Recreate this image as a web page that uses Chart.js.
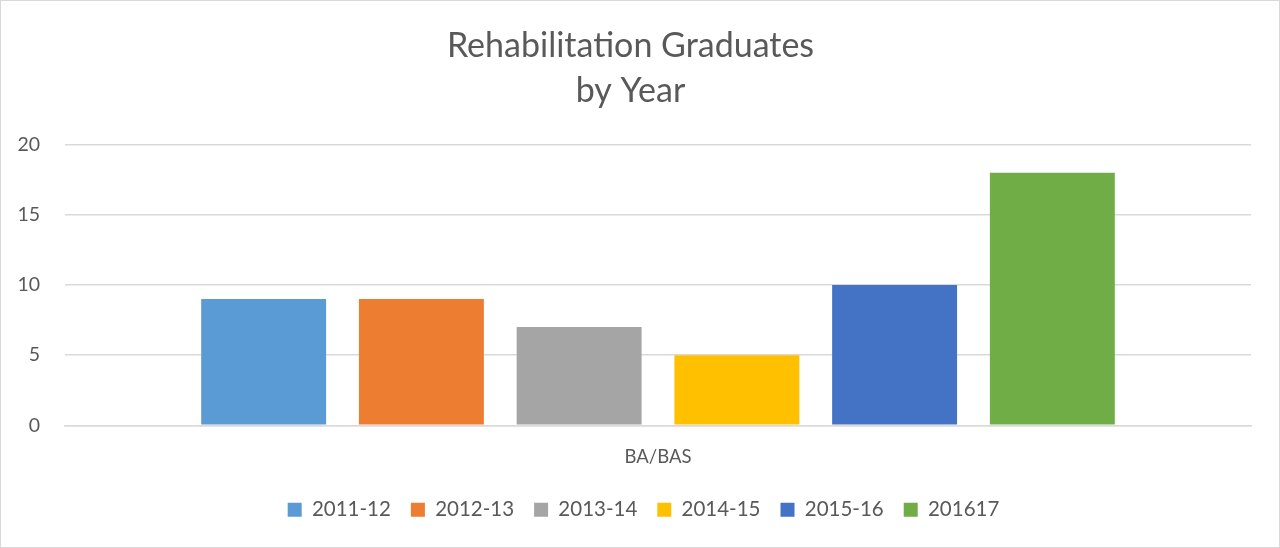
<!DOCTYPE html>
<html>
<head>
<meta charset="utf-8">
<script src="https://cdn.jsdelivr.net/npm/chart.js@4/dist/chart.umd.min.js"></script>
<style>
html,body{margin:0;padding:0;background:#fff;}
#wrap{width:1280px;height:548px;}
</style>
</head>
<body>
<div id="wrap"><canvas id="c" width="1280" height="548"></canvas></div>
<script>
const categories = ["BA/BAS"];
const seriesNames = ["2011-12","2012-13","2013-14","2014-15","2015-16","201617"];
const seriesValues = [9, 9, 7, 5, 10, 18];
const seriesColors = ["#5B9BD5","#ED7D31","#A5A5A5","#FFC000","#4472C4","#70AD47"];
const yTicks = [0, 5, 10, 15, 20];

const FONT = "Lato, 'Open Sans', sans-serif";
const textColor = "#595959";

const borderPlugin = {
  id: 'outerBorder',
  beforeDraw(chart) {
    const ctx = chart.ctx;
    ctx.save();
    ctx.fillStyle = '#fff';
    ctx.fillRect(0,0,chart.width,chart.height);
    ctx.strokeStyle = '#d9d9d9';
    ctx.lineWidth = 1;
    ctx.strokeRect(0.5,0.5,chart.width-1,chart.height-1);
    ctx.restore();
  }
};

// nudge the legend block (layout only, no data coordinates)
const legendShift = {
  id: 'legendShift',
  afterLayout(chart) {
    const lg = chart.legend;
    if (!lg) return;
    lg.top -= 10; lg.bottom -= 10;
    lg.left += 13; lg.right += 13;
  }
};

new Chart(document.getElementById('c'), {
  type: 'bar',
  data: {
    labels: categories,
    datasets: seriesNames.map((n,i)=>({
      label: n,
      data: [seriesValues[i]],
      backgroundColor: seriesColors[i],
      borderWidth: 0,
      categoryPercentage: 0.798,
      barPercentage: 0.792
    }))
  },
  options: {
    responsive: false,
    animation: false,
    devicePixelRatio: 1,
    layout: { padding: { left: 10, right: 29, top: 24, bottom: 8 } },
    plugins: {
      title: {
        display: true,
        text: ["Rehabilitation Graduates", "by Year"],
        color: textColor,
        font: { family: FONT, size: 34, weight: 'normal', lineHeight: 1.32 },
        padding: { top: 0, bottom: 31 }
      },
      legend: {
        position: 'bottom',
        labels: {
          color: textColor,
          font: { family: FONT, size: 20.5 },
          boxWidth: 14,
          boxHeight: 14,
          padding: 20
        }
      },
      tooltip: { enabled: false }
    },
    scales: {
      x: {
        grid: { display: false, drawTicks: false },
        border: { display: true, color: '#d9d9d9', width: 1.5 },
        ticks: { color: textColor, font: { family: FONT, size: 18.5 }, padding: 21 }
      },
      y: {
        min: 0, max: 20,
        afterBuildTicks(scale) { scale.ticks = yTicks.map(v => ({ value: v })); },
        afterFit(scale) { scale.width = 55; },
        grid: { color: '#d9d9d9', lineWidth: 1.5, drawTicks: false },
        border: { display: false },
        ticks: { color: textColor, font: { family: FONT, size: 19.5 }, padding: 25 }
      }
    }
  },
  plugins: [borderPlugin, legendShift]
});
</script>
</body>
</html>
